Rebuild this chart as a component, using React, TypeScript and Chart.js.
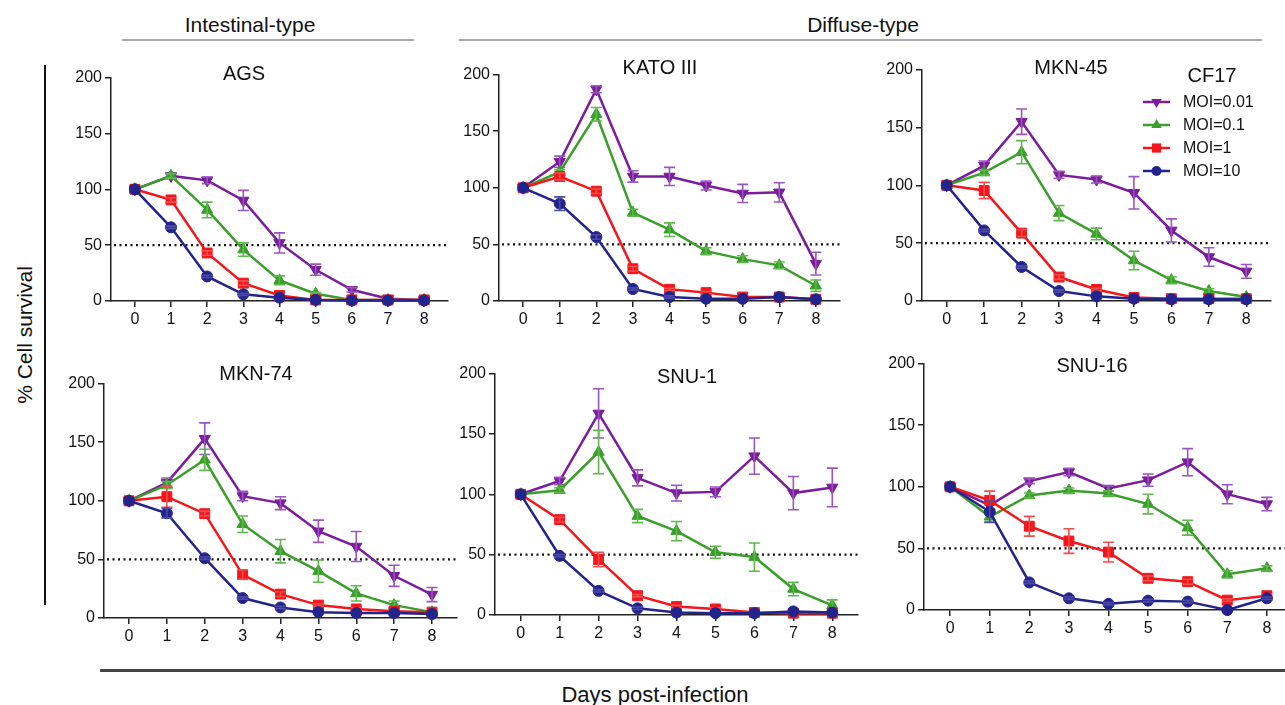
import React, { useEffect, useRef } from 'react';
import { Chart, registerables } from 'chart.js';

Chart.register(...registerables);

const FONT = '"Liberation Sans", Arial, Helvetica, sans-serif';
Chart.defaults.font.family = FONT;
Chart.defaults.color = '#111';

// ---------- data ----------
const DAYS = [0, 1, 2, 3, 4, 5, 6, 7, 8];
const Y_TICKS = [0, 50, 100, 150, 200];
const THRESHOLD = 50;
const SERIES_LABELS = ['MOI=0.01', 'MOI=0.1', 'MOI=1', 'MOI=10'];
const LEGEND_TITLE = 'CF17';

// AGS
const AGS_001 = [100, 112, 108, 90, 52, 28, 10, 2, 1];
const AGS_001_ERR = [0, 2, 3, 9, 9, 5, 2, 1, 0];
const AGS_01 = [100, 112, 81.5, 46, 18.5, 6.5, 1, 1, 1];
const AGS_01_ERR = [0, 2, 7, 6, 4, 1, 0, 0, 0];
const AGS_1 = [100, 90.5, 43, 16, 5, 1, 1, 1, 1];
const AGS_1_ERR = [0, 2, 2, 2, 1, 0, 0, 0, 0];
const AGS_10 = [100, 66, 22, 6, 3, 1, 0.5, 0.5, 0.5];
const AGS_10_ERR = [0, 1, 1, 1, 0, 0, 0, 0, 0];

// KATO III
const KATO_001 = [100, 123, 187, 110, 110, 102, 95, 96, 33];
const KATO_001_ERR = [0, 5, 3, 5, 8, 4, 8, 8.5, 10];
const KATO_01 = [100, 114, 165, 78, 63, 44, 37, 31.5, 13.5];
const KATO_01_ERR = [0, 2, 6, 3, 6, 3, 3, 3, 5];
const KATO_1 = [100, 110, 97, 28.5, 10.3, 7.4, 3.5, 3.5, 1.5];
const KATO_1_ERR = [0, 3, 2, 2, 1, 1, 1, 1, 1];
const KATO_10 = [100, 86, 56.5, 10.6, 3.5, 2, 2, 3.5, 1.5];
const KATO_10_ERR = [0, 6, 2, 1, 1, 0, 0, 0, 0];

// MKN-45
const MKN45_001 = [100, 117, 155, 109, 105, 93.5, 61, 38, 25.6];
const MKN45_001_ERR = [0, 4, 11, 3, 3, 14, 10, 8, 6];
const MKN45_01 = [100, 111, 128.6, 76, 58, 35, 18, 8.6, 3.5];
const MKN45_01_ERR = [0, 2, 10, 6.5, 5, 8, 3, 2, 1];
const MKN45_1 = [100, 95.5, 58.7, 20.7, 10, 3, 2, 2, 2];
const MKN45_1_ERR = [0, 7, 3, 2, 1, 1, 0, 0, 0];
const MKN45_10 = [100, 61, 29.4, 8.6, 4, 2, 1.5, 1.5, 1.5];
const MKN45_10_ERR = [0, 1, 1, 1, 0, 0, 0, 0, 0];

// MKN-74
const MKN74_001 = [100, 115.5, 153, 104, 98, 74, 61, 36, 20];
const MKN74_001_ERR = [0, 4, 13.5, 4, 5.5, 9.5, 12.8, 9, 6];
const MKN74_01 = [100, 113.5, 135, 80, 57, 40, 21, 11, 5];
const MKN74_01_ERR = [0, 3, 9, 7, 10, 9.5, 6.5, 3.5, 1];
const MKN74_1 = [100, 103.5, 89, 37, 20.4, 11, 7.7, 5.7, 5];
const MKN74_1_ERR = [0, 9, 2, 4, 2, 1, 1, 1, 0];
const MKN74_10 = [100, 89.4, 51, 17, 9, 5, 4.3, 4.3, 3.4];
const MKN74_10_ERR = [0, 4, 1, 1, 1, 0, 0, 0, 0];

// SNU-1
const SNU1_001 = [100, 111, 167, 113.6, 101, 102, 131.6, 101, 105.7];
const SNU1_001_ERR = [0, 3, 20.4, 6.6, 6.5, 4, 15, 13.8, 16];
const SNU1_01 = [100, 103.4, 135, 82, 69.5, 52, 48, 21.5, 8];
const SNU1_01_ERR = [0, 2, 18, 5.5, 8, 5, 11.7, 5.5, 4.5];
const SNU1_1 = [100, 79, 46, 16, 7, 5, 2, 1.5, 1.5];
const SNU1_1_ERR = [0, 2, 6, 1, 1, 1, 0, 0, 0];
const SNU1_10 = [100, 49, 20, 5.5, 2, 1.5, 1.5, 3, 2];
const SNU1_10_ERR = [0, 1, 1, 1, 0, 0, 0, 0, 0];

// SNU-16
const SNU16_001 = [100, 85, 104.6, 112, 98.6, 105.4, 120, 94, 86];
const SNU16_001_ERR = [0, 3, 2, 3, 2, 5, 11, 7.7, 5.4];
const SNU16_01 = [100, 75.7, 93, 97, 94.6, 86, 66.8, 29, 33.8];
const SNU16_01_ERR = [0, 4, 2, 2, 2, 8, 6, 3, 2];
const SNU16_1 = [100, 89, 68, 56, 47, 25.7, 23, 8, 11.6];
const SNU16_1_ERR = [0, 7.5, 8, 10, 8, 2, 2, 1, 1];
const SNU16_10 = [100, 79.7, 22.4, 9.5, 5, 7.6, 6.8, 0, 9.5];
const SNU16_10_ERR = [0, 8.7, 1, 1, 1, 1, 1, 0, 1];

// ---------- styles / layout ----------
const STYLES = [
  { color: '#7a1c9c', err: '#9a55be', pointStyle: 'triangle', rotation: 180, radius: 6.5 },
  { color: '#3a9f2a', err: '#5fb84e', pointStyle: 'triangle', rotation: 0, radius: 6.5 },
  { color: '#f4161b', err: '#f04d4d', pointStyle: 'rect', rotation: 0, radius: 7 },
  { color: '#23238d', err: '#4b4ba6', pointStyle: 'circle', rotation: 0, radius: 5.5 },
];

const X_MIN = -0.66;
const X_MAX = 8.66;
const Y_AXIS_W = 45;
const X_AXIS_H = 30;
const PAD_TOP = 12;
const PAD_RIGHT = 14;
const TICK_FONT = 16;

type PanelCfg = {
  title: string;
  series: number[][];
  errors: number[][];
  ax: number; axR: number; top: number; bottom: number;
  tx: number; ty: number;
  legend?: boolean;
};

const PANELS: PanelCfg[] = [
  { title: 'AGS', series: [AGS_001, AGS_01, AGS_1, AGS_10], errors: [AGS_001_ERR, AGS_01_ERR, AGS_1_ERR, AGS_10_ERR],
    ax: 111, axR: 448, top: 77, bottom: 301, tx: 244, ty: 73 },
  { title: 'KATO III', series: [KATO_001, KATO_01, KATO_1, KATO_10], errors: [KATO_001_ERR, KATO_01_ERR, KATO_1_ERR, KATO_10_ERR],
    ax: 499, axR: 840, top: 74, bottom: 301, tx: 660, ty: 67 },
  { title: 'MKN-45', series: [MKN45_001, MKN45_01, MKN45_1, MKN45_10], errors: [MKN45_001_ERR, MKN45_01_ERR, MKN45_1_ERR, MKN45_10_ERR],
    ax: 922, axR: 1271, top: 69, bottom: 301, tx: 1071, ty: 67, legend: true },
  { title: 'MKN-74', series: [MKN74_001, MKN74_01, MKN74_1, MKN74_10], errors: [MKN74_001_ERR, MKN74_01_ERR, MKN74_1_ERR, MKN74_10_ERR],
    ax: 104, axR: 457, top: 383, bottom: 618, tx: 256, ty: 373 },
  { title: 'SNU-1', series: [SNU1_001, SNU1_01, SNU1_1, SNU1_10], errors: [SNU1_001_ERR, SNU1_01_ERR, SNU1_1_ERR, SNU1_10_ERR],
    ax: 495, axR: 858, top: 373, bottom: 615, tx: 687, ty: 376 },
  { title: 'SNU-16', series: [SNU16_001, SNU16_01, SNU16_1, SNU16_10], errors: [SNU16_001_ERR, SNU16_01_ERR, SNU16_1_ERR, SNU16_10_ERR],
    ax: 924, axR: 1293, top: 363, bottom: 610, tx: 1092, ty: 365 },
];

// ---------- plugins ----------
const refLinePlugin = {
  id: 'refLine',
  beforeDatasetsDraw(chart: any) {
    const { ctx, chartArea } = chart;
    const y = chart.scales.y.getPixelForValue(THRESHOLD);
    ctx.save();
    ctx.strokeStyle = '#111';
    ctx.lineWidth = 2.2;
    ctx.setLineDash([2, 3.5]);
    ctx.beginPath();
    ctx.moveTo(chartArea.left + 3, y);
    ctx.lineTo(chartArea.right, y);
    ctx.stroke();
    ctx.restore();
  },
};

const errorBarPlugin = {
  id: 'errorBars',
  afterDatasetDraw(chart: any, args: any) {
    const ds = chart.data.datasets[args.index];
    const errs: number[] = ds.errors;
    if (!errs) return;
    const ys = chart.scales.y;
    const ctx = chart.ctx;
    ctx.save();
    ctx.strokeStyle = ds.errColor;
    ctx.lineWidth = 1.6;
    args.meta.data.forEach((pt: any, i: number) => {
      const e = errs[i];
      if (!e) return;
      const v = ds.data[i].y;
      const y1 = ys.getPixelForValue(v + e);
      const y2 = ys.getPixelForValue(v - e);
      const x = pt.x;
      const w = 5.5;
      ctx.beginPath();
      ctx.moveTo(x, y1); ctx.lineTo(x, y2);
      ctx.moveTo(x - w, y1); ctx.lineTo(x + w, y1);
      ctx.moveTo(x - w, y2); ctx.lineTo(x + w, y2);
      ctx.stroke();
    });
    ctx.restore();
  },
};

function drawMarker(ctx: CanvasRenderingContext2D, style: string, rotation: number, r: number, x: number, y: number) {
  ctx.beginPath();
  if (style === 'circle') {
    ctx.arc(x, y, r, 0, Math.PI * 2);
  } else if (style === 'rect') {
    const s = r * Math.SQRT1_2;
    ctx.rect(x - s, y - s, 2 * s, 2 * s);
  } else {
    let rad = (rotation * Math.PI) / 180;
    ctx.moveTo(x + Math.sin(rad) * r, y - Math.cos(rad) * r);
    rad += (2 * Math.PI) / 3;
    ctx.lineTo(x + Math.sin(rad) * r, y - Math.cos(rad) * r);
    rad += (2 * Math.PI) / 3;
    ctx.lineTo(x + Math.sin(rad) * r, y - Math.cos(rad) * r);
    ctx.closePath();
  }
  ctx.fill();
}

function makeLegendPlugin(ox: number, oy: number) {
  return {
    id: 'moiLegend',
    afterDraw(chart: any) {
      const ctx = chart.ctx;
      ctx.save();
      ctx.fillStyle = '#111';
      ctx.textBaseline = 'middle';
      ctx.textAlign = 'center';
      ctx.font = `20px ${FONT}`;
      ctx.fillText(LEGEND_TITLE, 1212 - ox, 76 - oy);
      const rows = [102, 125, 148, 171];
      ctx.font = `16px ${FONT}`;
      ctx.textAlign = 'left';
      SERIES_LABELS.forEach((label, i) => {
        const st = STYLES[i];
        const y = rows[i] - oy;
        ctx.strokeStyle = st.color;
        ctx.lineWidth = 2.5;
        ctx.beginPath();
        ctx.moveTo(1143 - ox, y);
        ctx.lineTo(1170 - ox, y);
        ctx.stroke();
        ctx.fillStyle = st.color;
        drawMarker(ctx, st.pointStyle, st.rotation, st.radius - 0.5, 1156.5 - ox, y);
        ctx.fillStyle = '#111';
        ctx.fillText(label, 1183 - ox, y + 1);
      });
      ctx.restore();
    },
  };
}

// ---------- components ----------
function Panel({ cfg }: { cfg: PanelCfg }) {
  const ref = useRef<HTMLCanvasElement | null>(null);
  const left = Math.round(cfg.ax) - Y_AXIS_W;
  const top = Math.round(cfg.top) - PAD_TOP;
  const width = Y_AXIS_W + Math.round(cfg.axR - cfg.ax) + PAD_RIGHT;
  const height = PAD_TOP + Math.round(cfg.bottom - cfg.top) + X_AXIS_H;

  useEffect(() => {
    if (!ref.current) return;
    const datasets = cfg.series.map((vals, idx) => {
      const st = STYLES[idx];
      return {
        label: SERIES_LABELS[idx],
        data: vals.map((v, i) => ({ x: DAYS[i], y: v })),
        errors: cfg.errors[idx],
        errColor: st.err,
        borderColor: st.color,
        backgroundColor: st.color,
        borderWidth: 2.5,
        pointStyle: st.pointStyle,
        rotation: st.rotation,
        pointRadius: st.radius,
        pointBorderWidth: 1,
        pointBackgroundColor: st.color,
        pointBorderColor: st.color,
        order: 3 - idx,
        clip: false,
        tension: 0,
      } as any;
    });
    const axisCommon = {
      grid: { display: true, drawOnChartArea: false, drawTicks: true, tickLength: 6, color: '#222', lineWidth: 1.5 },
      border: { display: true, color: '#222', width: 1.5 },
    };
    const plugins: any[] = [refLinePlugin, errorBarPlugin];
    if (cfg.legend) plugins.push(makeLegendPlugin(left, top));
    const chart = new Chart(ref.current, {
      type: 'line',
      data: { datasets },
      options: {
        animation: false,
        responsive: false,
        devicePixelRatio: 1,
        layout: { padding: { top: PAD_TOP, right: PAD_RIGHT, left: 0, bottom: 0 } },
        plugins: { legend: { display: false }, tooltip: { enabled: false }, title: { display: false } },
        scales: {
          x: {
            type: 'linear',
            min: X_MIN,
            max: X_MAX,
            afterBuildTicks: (axis: any) => { axis.ticks = DAYS.map((v) => ({ value: v })); },
            afterFit: (s: any) => { s.height = X_AXIS_H; },
            ...axisCommon,
            ticks: { padding: 3, font: { size: TICK_FONT }, color: '#111' },
          },
          y: {
            type: 'linear',
            min: 0,
            max: 200,
            afterBuildTicks: (axis: any) => { axis.ticks = Y_TICKS.map((v) => ({ value: v })); },
            afterFit: (s: any) => { s.width = Y_AXIS_W; },
            ...axisCommon,
            ticks: { padding: 3, font: { size: TICK_FONT }, color: '#111' },
          },
        },
      } as any,
      plugins,
    });
    return () => chart.destroy();
  }, []);

  return (
    <>
      <canvas
        ref={ref}
        width={width}
        height={height}
        style={{ position: 'absolute', left, top, width, height }}
      />
      <div style={{ ...centered, left: cfg.tx, top: cfg.ty, fontSize: 20 }}>{cfg.title}</div>
    </>
  );
}

const centered: React.CSSProperties = {
  position: 'absolute',
  transform: 'translate(-50%, -50%)',
  whiteSpace: 'nowrap',
  lineHeight: 1,
  fontFamily: FONT,
  color: '#111',
};

export default function App() {
  return (
    <div style={{ position: 'fixed', left: 0, top: 0, width: 1285, height: 705, overflow: 'hidden', background: '#fff' }}>
      <div style={{ ...centered, left: 250, top: 24, fontSize: 21 }}>Intestinal-type</div>
      <div style={{ position: 'absolute', left: 122, top: 39, width: 292, height: 2, background: '#aaa' }} />
      <div style={{ ...centered, left: 863, top: 24, fontSize: 21 }}>Diffuse-type</div>
      <div style={{ position: 'absolute', left: 459, top: 39, width: 803, height: 2, background: '#aaa' }} />

      <div style={{ position: 'absolute', left: 44, top: 65, width: 2, height: 540, background: '#111' }} />
      <div style={{ ...centered, left: 24, top: 335, fontSize: 21, transform: 'translate(-50%, -50%) rotate(-90deg)' }}>% Cell survival</div>

      <div style={{ position: 'absolute', left: 100, top: 669, width: 1185, height: 3, background: '#444' }} />
      <div style={{ ...centered, left: 655, top: 695, fontSize: 22 }}>Days post-infection</div>

      {PANELS.map((p) => (
        <Panel key={p.title} cfg={p} />
      ))}
    </div>
  );
}
